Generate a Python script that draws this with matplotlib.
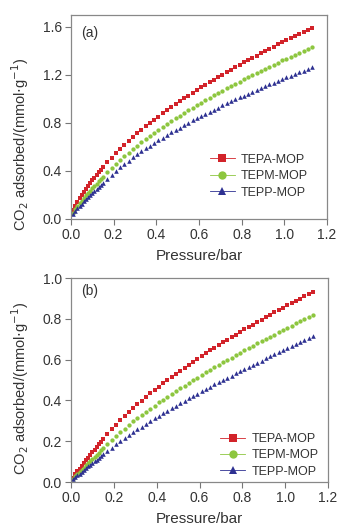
import matplotlib
matplotlib.use("Agg")
import matplotlib.pyplot as plt
from matplotlib.lines import Line2D

plt.rcParams['font.family'] = ['Liberation Sans', 'DejaVu Sans']

# pressure (bar), same grid for both panels
pressure = [0.01, 0.02, 0.03, 0.04, 0.05, 0.06, 0.07, 0.08, 0.09, 0.10,
            0.11, 0.12, 0.13, 0.14, 0.15,
            0.17, 0.19, 0.21, 0.23, 0.25, 0.27, 0.29, 0.31, 0.33, 0.35,
            0.37, 0.39, 0.41, 0.43, 0.45, 0.47, 0.49, 0.51, 0.53, 0.55,
            0.57, 0.59, 0.61, 0.63, 0.65, 0.67, 0.69, 0.71, 0.73, 0.75,
            0.77, 0.79, 0.81, 0.83, 0.85, 0.87, 0.89, 0.91, 0.93, 0.95,
            0.97, 0.99, 1.01, 1.03, 1.05, 1.07, 1.09, 1.11, 1.13]

# (a)
tepa_a = [0.073, 0.111, 0.143, 0.173, 0.200, 0.226, 0.251, 0.275, 0.299, 0.321,
          0.344, 0.366, 0.388, 0.409, 0.430,
          0.471, 0.511, 0.548, 0.583, 0.617, 0.650, 0.682, 0.713, 0.743, 0.772,
          0.800, 0.827, 0.854, 0.881, 0.906, 0.932, 0.956, 0.981, 1.005, 1.028,
          1.051, 1.074, 1.096, 1.118, 1.140, 1.162, 1.183, 1.204, 1.224, 1.245,
          1.265, 1.285, 1.305, 1.324, 1.343, 1.362, 1.381, 1.400, 1.419, 1.437,
          1.455, 1.473, 1.491, 1.509, 1.526, 1.544, 1.561, 1.578, 1.595]
tepm_a = [0.053, 0.083, 0.108, 0.132, 0.154, 0.176, 0.197, 0.217, 0.237, 0.257,
          0.276, 0.295, 0.313, 0.332, 0.350,
          0.388, 0.424, 0.459, 0.492, 0.523, 0.554, 0.583, 0.612, 0.640, 0.667,
          0.693, 0.718, 0.744, 0.768, 0.792, 0.816, 0.839, 0.861, 0.883, 0.905,
          0.927, 0.948, 0.969, 0.990, 1.010, 1.030, 1.050, 1.069, 1.088, 1.107,
          1.126, 1.145, 1.163, 1.181, 1.199, 1.217, 1.235, 1.252, 1.269, 1.287,
          1.304, 1.321, 1.337, 1.354, 1.370, 1.387, 1.403, 1.419, 1.435]
tepp_a = [0.042, 0.067, 0.089, 0.109, 0.128, 0.147, 0.165, 0.183, 0.200, 0.217,
          0.234, 0.251, 0.267, 0.284, 0.300,
          0.335, 0.368, 0.400, 0.430, 0.459, 0.486, 0.513, 0.539, 0.564, 0.588,
          0.612, 0.635, 0.657, 0.679, 0.701, 0.722, 0.742, 0.762, 0.782, 0.802,
          0.821, 0.839, 0.858, 0.876, 0.894, 0.912, 0.929, 0.946, 0.963, 0.980,
          0.997, 1.013, 1.029, 1.045, 1.061, 1.076, 1.092, 1.107, 1.122, 1.137,
          1.152, 1.166, 1.181, 1.195, 1.209, 1.224, 1.237, 1.251, 1.265]

# (b)
tepa_b = [0.021, 0.037, 0.052, 0.066, 0.079, 0.093, 0.106, 0.120, 0.133, 0.146,
          0.159, 0.172, 0.185, 0.197, 0.210,
          0.235, 0.258, 0.281, 0.302, 0.323, 0.343, 0.362, 0.381, 0.399, 0.417,
          0.434, 0.451, 0.468, 0.484, 0.500, 0.516, 0.531, 0.546, 0.561, 0.575,
          0.590, 0.604, 0.618, 0.631, 0.645, 0.658, 0.672, 0.685, 0.698, 0.710,
          0.723, 0.736, 0.748, 0.760, 0.772, 0.784, 0.796, 0.808, 0.820, 0.832,
          0.843, 0.854, 0.866, 0.877, 0.888, 0.899, 0.910, 0.921, 0.932]
tepm_b = [0.015, 0.027, 0.038, 0.049, 0.060, 0.071, 0.081, 0.092, 0.102, 0.113,
          0.123, 0.134, 0.144, 0.155, 0.165,
          0.186, 0.206, 0.226, 0.244, 0.262, 0.280, 0.297, 0.313, 0.329, 0.345,
          0.360, 0.375, 0.390, 0.404, 0.419, 0.433, 0.446, 0.460, 0.473, 0.486,
          0.500, 0.512, 0.525, 0.538, 0.550, 0.562, 0.575, 0.587, 0.599, 0.610,
          0.622, 0.634, 0.645, 0.656, 0.668, 0.679, 0.690, 0.701, 0.712, 0.723,
          0.734, 0.745, 0.755, 0.766, 0.777, 0.787, 0.797, 0.808, 0.818]
tepp_b = [0.013, 0.023, 0.032, 0.041, 0.050, 0.059, 0.067, 0.076, 0.084, 0.093,
          0.101, 0.110, 0.118, 0.127, 0.135,
          0.152, 0.169, 0.185, 0.200, 0.216, 0.230, 0.244, 0.259, 0.272, 0.286,
          0.299, 0.312, 0.325, 0.337, 0.350, 0.362, 0.374, 0.386, 0.398, 0.410,
          0.422, 0.433, 0.444, 0.456, 0.467, 0.478, 0.489, 0.500, 0.511, 0.522,
          0.533, 0.543, 0.554, 0.564, 0.575, 0.585, 0.595, 0.606, 0.616, 0.626,
          0.636, 0.646, 0.656, 0.666, 0.676, 0.686, 0.695, 0.705, 0.715]

names = ['TEPA-MOP', 'TEPM-MOP', 'TEPP-MOP']
colors = ['#d2232a', '#8dc63f', '#2e3192']
markers = ['s', 'o', '^']
msizes = [2.7, 3.1, 3.3]

fig = plt.figure(figsize=(3.5, 5.32), dpi=100)
ax_a = fig.add_axes([71/350, 1-219/532, 256/350, 204/532])
ax_b = fig.add_axes([71/350, 1-482/532, 257/350, 204/532])

panels = [
    (ax_a, [tepa_a, tepm_a, tepp_a], 1.7, [0, 0.4, 0.8, 1.2, 1.6], '(a)', 0.91,
     (0.97, 0.045), 0.368),
    (ax_b, [tepa_b, tepm_b, tepp_b], 1.0, [0, 0.2, 0.4, 0.6, 0.8, 1.0], '(b)', 0.936,
     (1.008, -0.034), 0.46),
]

for ax, series, ytop, yticks, tag, tag_y, anchor, ylab_y in panels:
    for ys, c, m, ms in zip(series, colors, markers, msizes):
        ax.plot(pressure, ys, ls='none', marker=m, ms=ms, color=c, mec=c, mew=0)
    ax.set_xlim(0, 1.2)
    ax.set_ylim(0, ytop)
    ax.set_xticks([0, 0.2, 0.4, 0.6, 0.8, 1.0, 1.2])
    ax.set_xticklabels(['0.0', '0.2', '0.4', '0.6', '0.8', '1.0', '1.2'])
    ax.set_yticks(yticks)
    ax.set_yticklabels(['%.1f' % v for v in yticks])
    ax.tick_params(direction='out', length=4, width=0.8, color='#777777',
                   labelsize=10, labelcolor='#333333', pad=2.5)
    for sp in ax.spines.values():
        sp.set_color('#888888')
        sp.set_linewidth(0.9)
    ax.set_xlabel('Pressure/bar', fontsize=11, color='#333333', labelpad=5)
    ax.set_ylabel('CO$_2$ adsorbed/(mmol$\\cdot$g$^{-1}$)', fontsize=10.5,
                  color='#333333')
    ax.yaxis.set_label_coords(-0.157, ylab_y)
    ax.text(0.04, tag_y, tag, transform=ax.transAxes, fontsize=10, color='#333333',
            va='center')
    handles = [Line2D([], [], color=c, lw=0.6, marker=m, ms=6, mec=c, mew=0)
               for c, m in zip(colors, markers)]
    ax.legend(handles, names, loc='lower right', bbox_to_anchor=anchor,
              frameon=False, fontsize=9, handlelength=2.0, handletextpad=0.5,
              labelspacing=0.35, labelcolor='#333333')

fig.savefig('out.png', dpi=100)
